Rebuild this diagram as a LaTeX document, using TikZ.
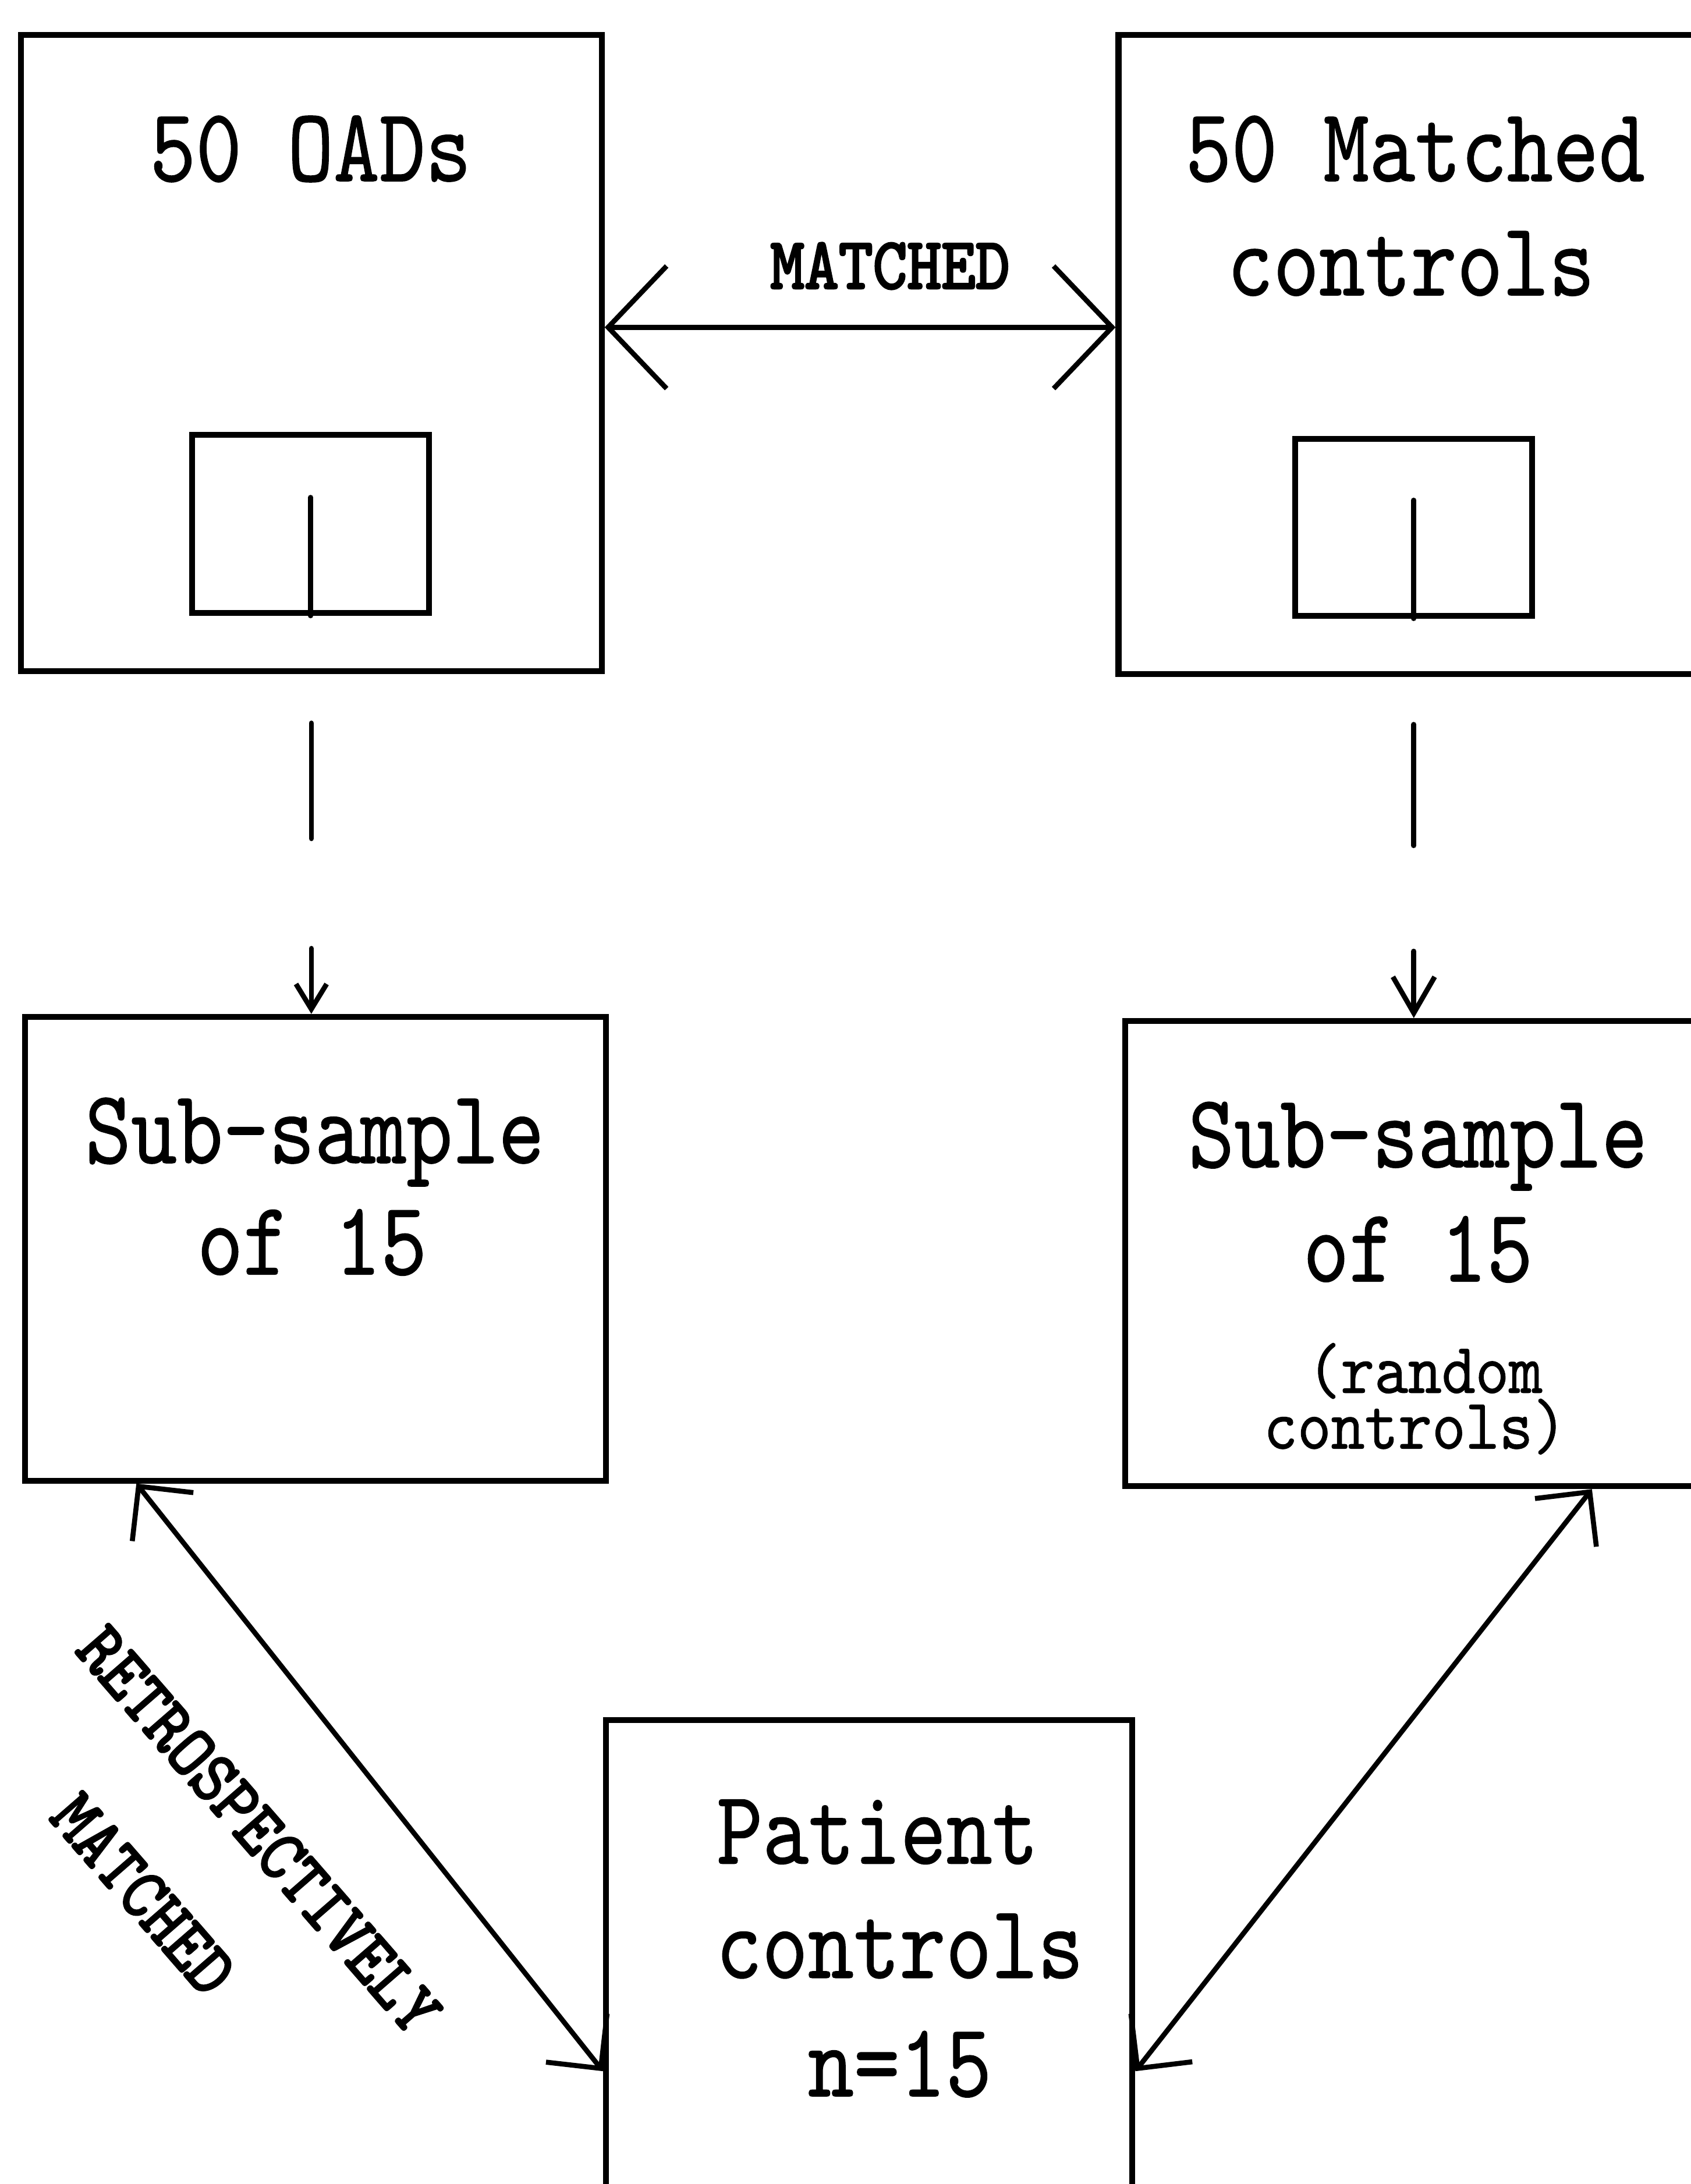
\documentclass[tikz,border=0pt]{standalone}
\usepackage{fontspec}
\usepackage{graphicx}
\usetikzlibrary{arrows.meta,calc,fit}
\newfontfamily\mainfnt{lmmono10-regular.otf}[FakeBold=0.8]
\newfontfamily\lblfnt{lmmono10-regular.otf}[FakeBold=3]
\newcommand\tallA[1]{\scalebox{1}[1.2]{#1}}
\newcommand\tallB[1]{\scalebox{1}[1.12]{#1}}
\tikzset{
  box/.style={draw, line width=2.1pt, inner sep=0pt},
  conn/.style={line width=1.8pt, line cap=round},
  txt/.style={font=\mainfnt\fontsize{31.4pt}{38pt}\selectfont, anchor=base, inner sep=0pt},
  smalltxt/.style={font=\mainfnt\fontsize{23pt}{28pt}\selectfont, anchor=base, inner sep=0pt},
  lbl/.style={font=\lblfnt\fontsize{23.4pt}{28pt}\selectfont, inner sep=0pt},
  matcharrow/.style={conn, arrows={Straight Barb[length=21pt,width=44pt]-Straight Barb[length=21pt,width=44pt]}},
  diagarrow/.style={conn, arrows={Straight Barb[length=14pt,width=28pt]-Straight Barb[length=14pt,width=28pt]}},
  downarrowS/.style={conn, arrows={-Straight Barb[length=9pt,width=11pt]}},
  downarrowL/.style={conn, arrows={-Straight Barb[length=13pt,width=15pt]}}
}
\begin{document}
\begin{tikzpicture}[x=0.5pt,y=-0.5pt]
\clip (0,0) rectangle (1214,1568);
\fill[white] (0,0) rectangle (1214,1568);
% top boxes
\node[box, fit={(15,25) (432,482)}] (oad) {};
\node[box, fit={(138,312) (308,440)}] (oadin) {};
\draw[conn] ($(oadin.south)+(0,-85)$) coordinate (oadstem) -- (oadin.south);
\node[box, fit={(803,25) (1245,484)}] (ctl) {};
\node[box, fit={(930,315) (1100,442)}] (ctlin) {};
\draw[conn] ($(ctlin.south)+(0,-85)$) coordinate (ctlstem) -- (ctlin.south);
% middle boxes
\node[box, fit={(18,730) (435,1063)}] (sub1) {};
\node[box, fit={(808,733) (1245,1067)}] (sub2) {};
% bottom box
\node[box, fit={(435,1235) (813,1590)}] (pat) {};
% texts
\node[txt] (oadT) at (223,130) {\tallA{50 OADs}};
\node[txt] (ctlT1) at (1016,130) {\tallA{50 Matched}};
\node[txt] (ctlT2) at (1013,212) {\tallA{controls}};
\node[txt] (sub1T1) at (226,835) {\tallA{Sub-sample}};
\node[txt] (sub1T2) at (224,915) {\tallA{of 15}};
\node[txt] (sub2T1) at (1018,838) {\tallA{Sub-sample}};
\node[txt] (sub2T2) at (1018,920) {\tallA{of 15}};
\node[smalltxt] (sub2T3) at (1023,1000) {\tallB{(random}};
\node[smalltxt] (sub2T4) at (1016,1040) {\tallB{controls)}};
\node[txt] (patT1) at (630,1338) {\tallA{Patient}};
\node[txt] (patT2) at (646,1420) {\tallA{controls}};
\node[txt] (patT3) at (646,1505) {\tallA{n=15}};
% matched arrow
\coordinate (mrow) at (0,235);
\draw[matcharrow] (oad.east |- mrow) -- (ctl.west |- mrow);
\node[lbl] (mlbl) at (639,191) {\tallB{MATCHED}};
% down connectors
\coordinate (d1a) at ($(oad.south)+(0,35)$);
\coordinate (d1b) at ($(oad.south)+(0,118)$);
\draw[conn] (d1a) -- (d1b);
\coordinate (d1c) at ($(oad.south |- sub1.north)+(0,-47)$);
\draw[downarrowS] (d1c) -- (oad.south |- sub1.north);
\coordinate (d2a) at ($(ctlin.south |- ctl.south)+(0,34)$);
\coordinate (d2b) at ($(ctlin.south |- ctl.south)+(0,121)$);
\draw[conn] (d2a) -- (d2b);
\coordinate (d2c) at ($(ctlin.south |- sub2.north)+(0,-48)$);
\draw[downarrowL] (d2c) -- (ctlin.south |- sub2.north);
% diagonal connectors
\coordinate (lrow) at (0,1487);
\coordinate (l1) at ($(sub1.south west)+(82,0)$);
\draw[diagarrow] (l1) -- (pat.west |- lrow);
\coordinate (r1) at ($(sub2.south west)+(337,0)$);
\draw[diagarrow] (pat.east |- lrow) -- (r1);
\node[lbl, rotate=-49] (retro1) at (186,1314) {\tallB{RETROSPECTIVELY}};
\node[lbl, rotate=-49] (retro2) at (103,1360) {\tallB{MATCHED}};
\end{tikzpicture}
\end{document}
